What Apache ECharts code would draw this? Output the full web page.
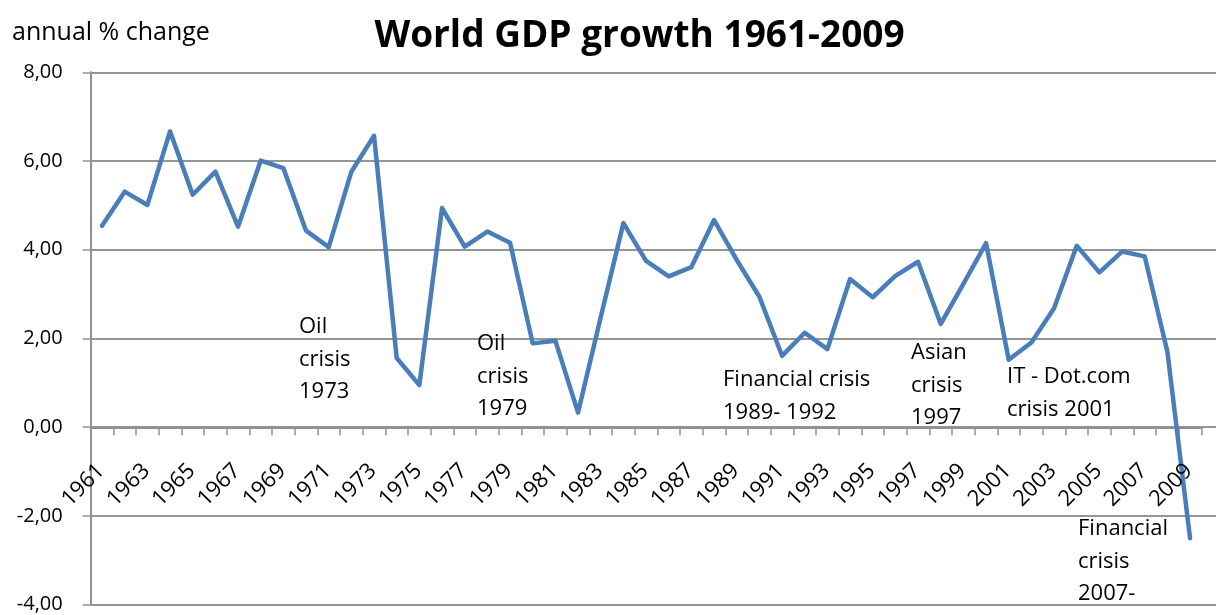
<!DOCTYPE html>
<html>
<head>
<meta charset="utf-8">
<script src="https://cdn.jsdelivr.net/npm/echarts@6/dist/echarts.min.js"></script>
<style>
html,body{margin:0;padding:0;background:#fff;}
#chart{width:1216px;height:615px;}
</style>
</head>
<body>
<div id="chart"></div>
<script>
const years = ['1961','1962','1963','1964','1965','1966','1967','1968','1969','1970',
  '1971','1972','1973','1974','1975','1976','1977','1978','1979','1980',
  '1981','1982','1983','1984','1985','1986','1987','1988','1989','1990',
  '1991','1992','1993','1994','1995','1996','1997','1998','1999','2000',
  '2001','2002','2003','2004','2005','2006','2007','2008','2009'];
const gdpGrowth = [4.54,5.31,5.01,6.67,5.24,5.76,4.52,6.01,5.84,4.43,
  4.06,5.76,6.57,1.56,0.95,4.94,4.07,4.41,4.16,1.89,
  1.95,0.33,2.48,4.60,3.75,3.40,3.61,4.67,3.77,2.94,
  1.61,2.13,1.76,3.34,2.93,3.41,3.73,2.33,3.23,4.15,
  1.52,1.91,2.68,4.09,3.49,3.96,3.85,1.70,-2.50];
const xTickLabels = ['1961','1963','1965','1967','1969','1971','1973','1975','1977','1979',
  '1981','1983','1985','1987','1989','1991','1993','1995','1997','1999',
  '2001','2003','2005','2007','2009'];
const yTickValues = [-4,-2,0,2,4,6,8];
const yTickLabels = ['-4,00','-2,00','0,00','2,00','4,00','6,00','8,00'];
const titleText = 'World GDP growth 1961-2009';
const yAxisTitle = 'annual % change';
const annotations = [
  {text:'Oil\ncrisis\n1973', x:299, y:327},
  {text:'Oil\ncrisis\n1979', x:477, y:344},
  {text:'Financial crisis\n1989- 1992', x:723, y:380},
  {text:'Asian\ncrisis\n1997', x:911, y:353},
  {text:'IT - Dot.com\ncrisis 2001', x:1007, y:377},
  {text:'Financial\ncrisis\n2007-', x:1078, y:529}
];

const FONT = '"Open Sans", "DejaVu Sans", sans-serif';
const TOP = 72.3, BOTTOM_Y = 604.7, ZERO_Y = 427.3, LEFT = 90.7, RIGHT = 14.6;
const H = 615;
const LH = 32.5;
const AX = '#909090';

const chart = echarts.init(document.getElementById('chart'), null, {renderer:'canvas'});
const option = {
  backgroundColor:'#fff',
  animation:false,
  grid:[
    {left:LEFT, top:TOP, bottom:H-BOTTOM_Y, right:0, containLabel:false, outerBoundsMode:'none'},
    {left:LEFT, top:TOP, bottom:H-BOTTOM_Y, right:RIGHT, containLabel:false, outerBoundsMode:'none'},
    {left:LEFT, top:TOP, bottom:H-ZERO_Y, right:RIGHT, containLabel:false, outerBoundsMode:'none'}
  ],
  xAxis:[
    {gridIndex:0, type:'value', min:0, max:1, show:false},
    {gridIndex:1, type:'category', data:years, boundaryGap:true, show:false},
    {gridIndex:2, type:'category', data:years, boundaryGap:true, position:'bottom',
     axisLine:{show:true, onZero:false, lineStyle:{color:AX, width:2}},
     axisTick:{show:true, interval:0, length:8, alignWithLabel:false, lineStyle:{color:AX, width:1.5}},
     axisLabel:{show:false},
     splitLine:{show:false}}
  ],
  yAxis:[
    {gridIndex:0, type:'value', min:-4, max:8, interval:2,
     axisLine:{show:false}, axisTick:{show:false}, axisLabel:{show:false},
     splitLine:{show:true, lineStyle:{color:'#959595', width:2}}},
    {gridIndex:1, type:'value', min:-4, max:8, interval:2,
     axisLine:{show:true, lineStyle:{color:AX, width:2}},
     axisTick:{show:true, length:8, lineStyle:{color:AX, width:1.5}},
     axisLabel:{margin:28, color:'#000', fontFamily:FONT, fontSize:20,
       formatter:function(v){const i=yTickValues.indexOf(v);return i>=0?yTickLabels[i]:'';}},
     splitLine:{show:false}},
    {gridIndex:2, type:'value', min:0, max:8, show:false}
  ],
  series:[{
    type:'line', xAxisIndex:1, yAxisIndex:1, data:gdpGrowth,
    showSymbol:false, symbol:'none', smooth:false,
    lineStyle:{color:'#4A7EBB', width:4.5, join:'round', cap:'round'},
    z:5
  }]
};
chart.setOption(option);

// Text elements; x-axis tick labels are placed through the category axis scale.
const graphics = [
  {type:'text', style:{text:titleText, x:639.5, y:36, align:'center', verticalAlign:'middle',
    font:'bold 37px ' + FONT, fill:'#000'}},
  {type:'text', style:{text:yAxisTitle, x:12, y:33, align:'left', verticalAlign:'middle',
    font:'25px ' + FONT, fill:'#000'}}
].concat(annotations.map(a => ({
  type:'text', z:10,
  style:{text:a.text, x:a.x, y:a.y - LH/2, align:'left', verticalAlign:'top',
    font:'22px ' + FONT, lineHeight:LH, fill:'#000'}
})));
xTickLabels.forEach(lbl => {
  const p = chart.convertToPixel({xAxisIndex:2, yAxisIndex:2}, [lbl, 0]);
  graphics.push({
    type:'text', x:p[0] - 1, y:p[1] + 40, rotation:Math.PI/4, z:10,
    style:{text:lbl, x:0, y:0, align:'right', verticalAlign:'middle', font:'22px ' + FONT, fill:'#000'}
  });
});
chart.setOption({graphic:graphics});
</script>
</body>
</html>
